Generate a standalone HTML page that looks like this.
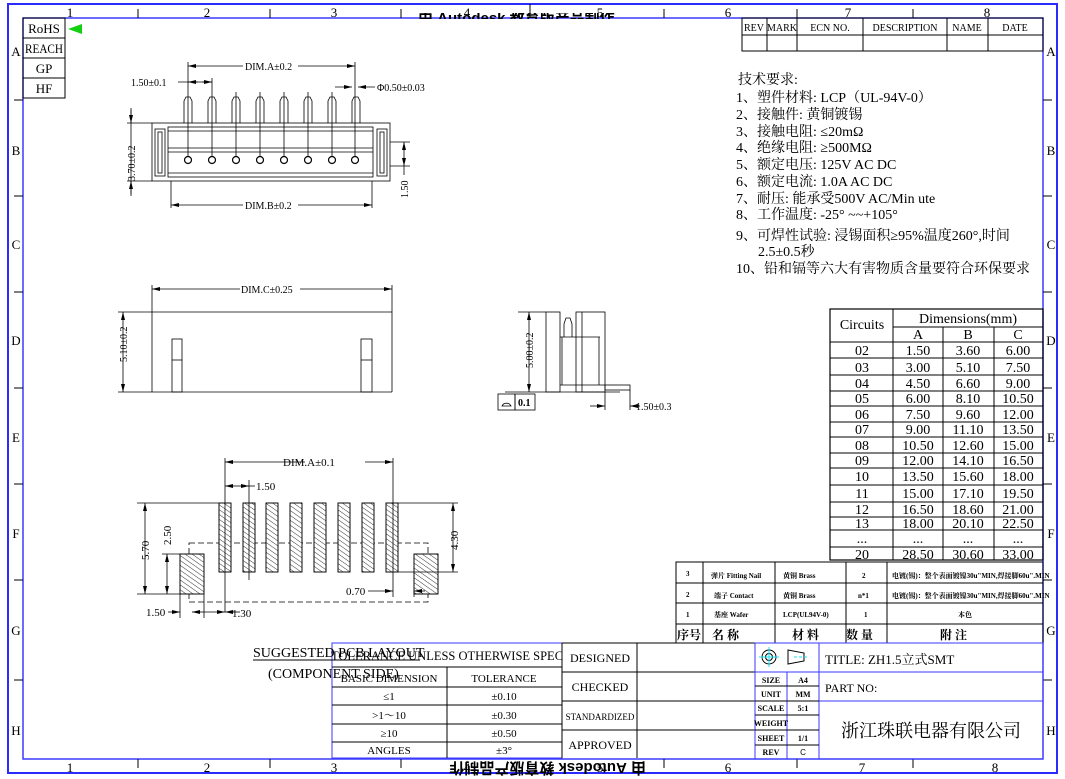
<!DOCTYPE html>
<html><head><meta charset="utf-8"><style>
html,body{margin:0;padding:0;background:#fff;}
svg{display:block;}
text{font-family:"Liberation Serif","Noto Serif CJK SC","Noto Sans CJK SC",serif;fill:#000;}
.c{font-family:"Liberation Sans",sans-serif;fill:#19e0f0;font-size:13px;}
.s{font-family:"Liberation Sans","Noto Sans CJK SC",sans-serif;}
</style></head><body>
<svg width="1065" height="779" viewBox="0 0 1065 779" xmlns="http://www.w3.org/2000/svg">
<defs>
<pattern id="h" width="4" height="4" patternUnits="userSpaceOnUse" patternTransform="rotate(-55)">
<line x1="0" y1="0" x2="0" y2="4" stroke="#000" stroke-width="0.8"/></pattern>
<marker id="a" markerWidth="8" markerHeight="6" refX="8" refY="3" orient="auto-start-reverse" markerUnits="userSpaceOnUse"><path d="M0,1 L8,3 L0,5z" fill="#000"/></marker>
<clipPath id="wm"><rect x="0" y="13" width="1065" height="6"/></clipPath>
</defs>
<!-- frames -->
<rect x="8" y="4" width="1049" height="769" fill="none" stroke="#2b2bff" stroke-width="2"/>
<rect x="23" y="18" width="1020" height="741" fill="none" stroke="#3a3aff" stroke-width="1.5"/>
<g stroke="#000" stroke-width="1">
<line x1="138" y1="9" x2="138" y2="18"/><line x1="270" y1="9" x2="270" y2="18"/><line x1="401" y1="9" x2="401" y2="18"/><line x1="530" y1="4" x2="530" y2="18"/><line x1="664" y1="9" x2="664" y2="18"/><line x1="797" y1="9" x2="797" y2="18"/><line x1="913" y1="9" x2="913" y2="18"/>
<line x1="138" y1="759" x2="138" y2="768"/><line x1="270" y1="759" x2="270" y2="768"/><line x1="401" y1="759" x2="401" y2="768"/><line x1="664" y1="759" x2="664" y2="768"/><line x1="797" y1="759" x2="797" y2="768"/><line x1="913" y1="759" x2="913" y2="768"/>
<line x1="14" y1="100" x2="23" y2="100"/><line x1="14" y1="196" x2="23" y2="196"/><line x1="14" y1="292" x2="23" y2="292"/><line x1="14" y1="388" x2="23" y2="388"/><line x1="14" y1="484" x2="23" y2="484"/><line x1="14" y1="580" x2="23" y2="580"/><line x1="14" y1="680" x2="23" y2="680"/>
<line x1="1043" y1="100" x2="1052" y2="100"/><line x1="1043" y1="196" x2="1052" y2="196"/><line x1="1043" y1="292" x2="1052" y2="292"/><line x1="1043" y1="388" x2="1052" y2="388"/><line x1="1043" y1="484" x2="1052" y2="484"/><line x1="1043" y1="580" x2="1052" y2="580"/><line x1="1043" y1="680" x2="1052" y2="680"/>
</g>
<g class="c" text-anchor="middle">
<text x="70" y="17">1</text><text x="207" y="17">2</text><text x="334" y="17">3</text><text x="467" y="17">4</text><text x="600" y="17">5</text><text x="728" y="17">6</text><text x="848" y="17">7</text><text x="987" y="17">8</text>
<text x="70" y="772">1</text><text x="207" y="772">2</text><text x="334" y="772">3</text><text x="467" y="772">4</text><text x="600" y="772">5</text><text x="728" y="772">6</text><text x="862" y="772">7</text><text x="995" y="772">8</text>
<text x="16" y="56">A</text><text x="16" y="155">B</text><text x="16" y="249">C</text><text x="16" y="345">D</text><text x="16" y="442">E</text><text x="16" y="538">F</text><text x="16" y="635">G</text><text x="16" y="735">H</text>
<text x="1051" y="56">A</text><text x="1051" y="155">B</text><text x="1051" y="249">C</text><text x="1051" y="345">D</text><text x="1051" y="442">E</text><text x="1051" y="538">F</text><text x="1051" y="635">G</text><text x="1051" y="735">H</text>
</g>
<!-- watermark top/bottom -->
<g clip-path="url(#wm)"><text x="418" y="23" font-size="15" font-weight="bold" class="s">由 Autodesk 教育版产品制作</text></g>
<text x="0" y="0" font-size="15" font-weight="bold" class="s" transform="translate(646,763) rotate(180)">由 Autodesk 教育版产品制作</text>
<!-- RoHS -->
<g stroke="#000" fill="none"><rect x="23" y="18" width="42" height="80"/><line x1="23" y1="38" x2="65" y2="38"/><line x1="23" y1="58" x2="65" y2="58"/><line x1="23" y1="78" x2="65" y2="78"/></g>
<g font-size="13" text-anchor="middle"><text x="44" y="33">RoHS</text><text x="44" y="53" textLength="38" lengthAdjust="spacingAndGlyphs">REACH</text><text x="44" y="73">GP</text><text x="44" y="93">HF</text></g>
<path d="M68,29 L82,24 L82,34z" fill="#10d010"/>
<!-- revision table -->
<g stroke="#000" fill="none"><rect x="742" y="18" width="301" height="33"/><line x1="742" y1="35" x2="1043" y2="35"/>
<line x1="767" y1="18" x2="767" y2="51"/><line x1="797" y1="18" x2="797" y2="51"/><line x1="863" y1="18" x2="863" y2="51"/><line x1="947" y1="18" x2="947" y2="51"/><line x1="988" y1="18" x2="988" y2="51"/></g>
<g font-size="10" text-anchor="middle"><text x="754" y="31">REV</text><text x="782" y="31">MARK</text><text x="830" y="31">ECN NO.</text><text x="905" y="31">DESCRIPTION</text><text x="967" y="31">NAME</text><text x="1015" y="31">DATE</text></g>
<!-- tech reqs -->
<g font-size="14">
<text x="738" y="84">技术要求:</text>
<text x="736" y="102">1、塑件材料: LCP（UL-94V-0）</text>
<text x="736" y="119">2、接触件: 黄铜镀锡</text>
<text x="736" y="136">3、接触电阻: ≤20mΩ</text>
<text x="736" y="152">4、绝缘电阻: ≥500MΩ</text>
<text x="736" y="169">5、额定电压: 125V AC  DC</text>
<text x="736" y="186">6、额定电流: 1.0A AC  DC</text>
<text x="736" y="203">7、耐压: 能承受500V  AC/Min ute</text>
<text x="736" y="219">8、工作温度: -25° ~~+105°</text>
<text x="736" y="240">9、可焊性试验: 浸锡面积≥95%温度260°,时间</text>
<text x="758" y="256">2.5±0.5秒</text>
<text x="736" y="273">10、铅和镉等六大有害物质含量要符合环保要求</text>
</g>
<!-- TOP VIEW -->
<g stroke="#000" fill="none" stroke-width="0.8">
<rect x="152" y="123" width="238" height="58"/>
<rect x="168" y="127" width="205" height="50"/>
<line x1="168" y1="131" x2="373" y2="131"/><line x1="168" y1="148" x2="373" y2="148"/><line x1="168" y1="152" x2="373" y2="152"/><line x1="168" y1="173" x2="373" y2="173"/>
<rect x="155" y="129" width="10" height="47"/><rect x="377" y="129" width="10" height="47"/>
<rect x="158" y="132" width="4" height="41"/><rect x="380" y="132" width="4" height="41"/>
<path d="M184,123 V101 L186,97 H190 L192,101 V123"/><path d="M208,123 V101 L210,97 H214 L216,101 V123"/><path d="M232,123 V101 L234,97 H238 L240,101 V123"/><path d="M256,123 V101 L258,97 H262 L264,101 V123"/><path d="M280,123 V101 L282,97 H286 L288,101 V123"/><path d="M304,123 V101 L306,97 H310 L312,101 V123"/><path d="M328,123 V101 L330,97 H334 L336,101 V123"/><path d="M352,123 V101 L354,97 H358 L360,101 V123"/>
<line x1="188" y1="62" x2="188" y2="160"/><line x1="212" y1="78" x2="212" y2="160"/><line x1="236" y1="92" x2="236" y2="160"/><line x1="260" y1="92" x2="260" y2="160"/><line x1="284" y1="92" x2="284" y2="160"/><line x1="308" y1="92" x2="308" y2="160"/><line x1="332" y1="92" x2="332" y2="160"/><line x1="355" y1="62" x2="355" y2="160"/>
<line x1="171" y1="181" x2="171" y2="208"/><line x1="372" y1="181" x2="372" y2="208"/>
<line x1="127" y1="123" x2="152" y2="123"/><line x1="127" y1="181" x2="152" y2="181"/>
<line x1="390" y1="142" x2="410" y2="142"/><line x1="390" y1="166" x2="410" y2="166"/>
</g>
<g fill="#fff" stroke="#000" stroke-width="1.2">
<circle cx="188" cy="160" r="3.5"/><circle cx="212" cy="160" r="3.5"/><circle cx="236" cy="160" r="3.5"/><circle cx="260" cy="160" r="3.5"/><circle cx="284" cy="160" r="3.5"/><circle cx="308" cy="160" r="3.5"/><circle cx="332" cy="160" r="3.5"/><circle cx="355" cy="160" r="3.5"/></g>
<g stroke="#000" stroke-width="0.8" fill="none">
<line x1="188" y1="66" x2="243" y2="66" marker-start="url(#a)"/><line x1="298" y1="66" x2="355" y2="66" marker-end="url(#a)"/>
<line x1="178" y1="82" x2="212" y2="82"/><path d="M188,82 h10" marker-start="url(#a)"/><path d="M202,82 h10" marker-end="url(#a)"/>
<path d="M335,87 h17" marker-end="url(#a)"/><path d="M375,87 h-17" marker-end="url(#a)"/>
<line x1="131" y1="108" x2="131" y2="196"/><path d="M131,110 v13" marker-end="url(#a)"/><path d="M131,194 v-13" marker-end="url(#a)"/>
<line x1="404" y1="142" x2="404" y2="166" marker-start="url(#a)" marker-end="url(#a)"/><line x1="404" y1="166" x2="404" y2="175"/>
<line x1="171" y1="205" x2="243" y2="205" marker-start="url(#a)"/><line x1="298" y1="205" x2="372" y2="205" marker-end="url(#a)"/>
</g>
<g font-size="10"><text x="245" y="70">DIM.A±0.2</text><text x="131" y="86">1.50±0.1</text><text x="377" y="91">Φ0.50±0.03</text><text x="245" y="209">DIM.B±0.2</text>
<text transform="translate(135,181) rotate(-90)">3.70±0.2</text><text transform="translate(408,198) rotate(-90)">1.50</text></g>
<!-- FRONT VIEW -->
<g stroke="#000" fill="none" stroke-width="0.8">
<path d="M152,392 V312 H392 V392"/><line x1="152" y1="392" x2="392" y2="392"/>
<rect x="172" y="339" width="10" height="53"/><line x1="172" y1="360" x2="182" y2="360"/>
<rect x="361" y="339" width="11" height="53"/><line x1="361" y1="360" x2="372" y2="360"/>
<line x1="152" y1="285" x2="152" y2="312"/><line x1="392" y1="285" x2="392" y2="312"/>
<line x1="152" y1="289" x2="240" y2="289" marker-start="url(#a)"/><line x1="300" y1="289" x2="392" y2="289" marker-end="url(#a)"/>
<line x1="118" y1="312" x2="152" y2="312"/><line x1="118" y1="392" x2="152" y2="392"/>
<line x1="123" y1="312" x2="123" y2="392" marker-start="url(#a)" marker-end="url(#a)"/>
</g>
<g font-size="10"><text x="241" y="293">DIM.C±0.25</text><text transform="translate(127,362) rotate(-90)">5.10±0.2</text></g>
<!-- SIDE VIEW -->
<g stroke="#000" fill="none" stroke-width="0.8">
<rect x="546" y="312" width="14" height="80"/>
<rect x="576" y="312" width="29" height="80"/><line x1="582" y1="312" x2="582" y2="392"/>
<path d="M560,337 H600 M562,337 V385 M599,337 V385 M560,385 H605"/>
<path d="M564,337 V324 L566,318 H570 L572,324 V337"/>
<rect x="605" y="385" width="25" height="5"/>
<line x1="518" y1="312" x2="546" y2="312"/><line x1="505" y1="392" x2="620" y2="392"/>
<line x1="529" y1="312" x2="529" y2="392" marker-start="url(#a)" marker-end="url(#a)"/>
<rect x="498" y="394" width="17" height="16"/><rect x="515" y="394" width="20" height="16"/>
<path d="M502,406 A5,5 0 0 1 511,406 z"/>
<line x1="605" y1="392" x2="605" y2="410"/><line x1="630" y1="390" x2="630" y2="410"/>
<path d="M590,406 h15" marker-end="url(#a)"/><path d="M640,406 h-10" marker-end="url(#a)"/>
</g>
<g font-size="10"><text x="518" y="406" font-weight="bold">0.1</text><text x="636" y="410">1.50±0.3</text><text transform="translate(533,368) rotate(-90)">5.00±0.2</text></g>
<!-- PCB LAYOUT -->
<g stroke="#000" stroke-width="0.8">
<rect x="189" y="543" width="239" height="59" fill="none" stroke-dasharray="6,3"/>
<g fill="#fff"><rect x="219" y="503" width="12" height="69"/><rect x="243" y="503" width="12" height="69"/><rect x="266" y="503" width="12" height="69"/><rect x="290" y="503" width="12" height="69"/><rect x="314" y="503" width="12" height="69"/><rect x="338" y="503" width="12" height="69"/><rect x="362" y="503" width="12" height="69"/><rect x="386" y="503" width="12" height="69"/>
<rect x="180" y="554" width="24" height="40"/><rect x="414" y="554" width="24" height="40"/></g>
<g fill="url(#h)"><rect x="219" y="503" width="12" height="69"/><rect x="243" y="503" width="12" height="69"/><rect x="266" y="503" width="12" height="69"/><rect x="290" y="503" width="12" height="69"/><rect x="314" y="503" width="12" height="69"/><rect x="338" y="503" width="12" height="69"/><rect x="362" y="503" width="12" height="69"/><rect x="386" y="503" width="12" height="69"/>
<rect x="180" y="554" width="24" height="40"/><rect x="414" y="554" width="24" height="40"/></g>
<g fill="none">
<line x1="225" y1="458" x2="225" y2="612"/><line x1="393" y1="458" x2="393" y2="597"/><line x1="249" y1="480" x2="249" y2="580"/>
<line x1="180" y1="594" x2="180" y2="618"/><line x1="204" y1="594" x2="204" y2="618"/>
<line x1="225" y1="462" x2="305" y2="462" marker-start="url(#a)"/><line x1="365" y1="462" x2="393" y2="462" marker-end="url(#a)"/>
<path d="M225,486 h12" marker-start="url(#a)"/><path d="M237,486 h12" marker-end="url(#a)"/><line x1="249" y1="486" x2="255" y2="486"/>
<line x1="137" y1="503" x2="219" y2="503"/><line x1="137" y1="594" x2="180" y2="594"/><line x1="162" y1="554" x2="180" y2="554"/>
<line x1="145" y1="503" x2="145" y2="594" marker-start="url(#a)" marker-end="url(#a)"/>
<line x1="167" y1="554" x2="167" y2="594" marker-start="url(#a)" marker-end="url(#a)"/>
<line x1="398" y1="503" x2="458" y2="503"/><line x1="398" y1="572" x2="458" y2="572"/>
<line x1="453" y1="503" x2="453" y2="572" marker-start="url(#a)" marker-end="url(#a)"/>
<path d="M168,612 h12" marker-end="url(#a)"/><path d="M204,612 h-12" marker-end="url(#a)"/><path d="M204,612 h21" marker-end="url(#a)"/><path d="M240,612 h-15" marker-end="url(#a)"/>
<path d="M368,591 h25" marker-end="url(#a)"/><path d="M425,591 h-11" marker-end="url(#a)"/><line x1="414" y1="591" x2="414" y2="597"/>
</g></g>
<g font-size="11"><text x="283" y="466">DIM.A±0.1</text><text x="256" y="490">1.50</text><text x="146" y="616">1.50</text><text x="232" y="617">1.30</text><text x="346" y="595">0.70</text>
<text transform="translate(149,560) rotate(-90)">5.70</text><text transform="translate(171,545) rotate(-90)">2.50</text><text transform="translate(458,550) rotate(-90)">4.30</text></g>
<!-- tolerance table -->
<g stroke="#3a3aff" fill="none"><rect x="332" y="643" width="230" height="115"/></g>
<g stroke="#000" fill="none"><line x1="332" y1="667" x2="562" y2="667"/><line x1="332" y1="687" x2="562" y2="687"/><line x1="332" y1="705" x2="562" y2="705"/><line x1="332" y1="724" x2="562" y2="724"/><line x1="332" y1="742" x2="562" y2="742"/><line x1="447" y1="667" x2="447" y2="758"/>
<line x1="562" y1="643" x2="562" y2="758"/><line x1="637" y1="643" x2="637" y2="758"/>
<line x1="562" y1="672" x2="755" y2="672"/><line x1="562" y1="701" x2="755" y2="701"/><line x1="562" y1="730" x2="755" y2="730"/><line x1="562" y1="643" x2="755" y2="643"/></g>
<text x="253" y="657" font-size="14">SUGGESTED PCB LAYOUT</text><line x1="253" y1="660" x2="420" y2="660" stroke="#000"/>
<text x="268" y="678" font-size="14">(COMPONENT SIDE)</text>
<g font-size="11" text-anchor="middle"><text x="447" y="660" font-size="12.5">TOLERANCE UNLESS OTHERWISE SPEC</text>
<text x="389" y="682">BASIC DIMENSION</text><text x="504" y="682">TOLERANCE</text>
<text x="389" y="700">≤1</text><text x="504" y="700">±0.10</text>
<text x="389" y="719">&gt;1～10</text><text x="504" y="719">±0.30</text>
<text x="389" y="737">≥10</text><text x="504" y="737">±0.50</text>
<text x="389" y="754">ANGLES</text><text x="504" y="754">±3°</text>
<text x="600" y="662" font-size="12">DESIGNED</text><text x="600" y="691" font-size="12">CHECKED</text><text x="600" y="720" font-size="9">STANDARDIZED</text><text x="600" y="749" font-size="12">APPROVED</text></g>
<!-- BOM -->
<g stroke="#000" fill="none"><rect x="676" y="562" width="367" height="81"/>
<line x1="676" y1="583" x2="1043" y2="583"/><line x1="676" y1="603" x2="1043" y2="603"/><line x1="676" y1="624" x2="1043" y2="624"/>
<line x1="703" y1="562" x2="703" y2="643"/><line x1="775" y1="562" x2="775" y2="643"/><line x1="846" y1="562" x2="846" y2="643"/><line x1="887" y1="562" x2="887" y2="643"/></g>
<g font-size="7" font-weight="bold" class="s"><text x="686" y="576">3</text><text x="686" y="597">2</text><text x="686" y="617">1</text>
<text x="711" y="578">弹片 Fitting Nail</text><text x="714" y="598">端子 Contact</text><text x="714" y="617">基座 Wafer</text>
<text x="783" y="578">黄铜 Brass</text><text x="783" y="598">黄铜 Brass</text><text x="783" y="617">LCP(UL94V-0)</text>
<text x="862" y="578">2</text><text x="858" y="598">n*1</text><text x="864" y="617">1</text>
<text x="892" y="578">电镀(锡)：整个表面镀镍30u"MIN,焊接脚60u".MIN</text><text x="892" y="598">电镀(锡)：整个表面镀镍30u"MIN,焊接脚60u".MIN</text><text x="958" y="617">本色</text>
<text x="677" y="639" font-size="12">序号</text><text x="712" y="639" font-size="12">名  称</text><text x="792" y="639" font-size="12">材  料</text><text x="846" y="639" font-size="12">数  量</text><text x="940" y="639" font-size="12">附  注</text></g>
<!-- title block -->
<g stroke="#3a3aff" fill="none"><rect x="755" y="643" width="288" height="116"/><line x1="819" y1="643" x2="819" y2="759"/><line x1="755" y1="672" x2="1043" y2="672"/><line x1="819" y1="701" x2="1043" y2="701"/><line x1="787" y1="672" x2="787" y2="759"/></g>
<g stroke="#000" fill="none"><line x1="755" y1="686" x2="819" y2="686"/><line x1="755" y1="701" x2="819" y2="701"/><line x1="755" y1="715" x2="819" y2="715"/><line x1="755" y1="730" x2="819" y2="730"/><line x1="755" y1="745" x2="819" y2="745"/>
<circle cx="769" cy="657" r="7"/><circle cx="769" cy="657" r="3.5"/><path d="M788,650 L804,653 V661 L788,664 z"/></g>
<g stroke="#19e0f0"><line x1="759" y1="657" x2="779" y2="657"/><line x1="769" y1="647" x2="769" y2="667"/><line x1="794" y1="657" x2="808" y2="657" stroke-dasharray="3,2"/></g>
<g font-size="8" text-anchor="middle" font-weight="bold"><text x="771" y="683">SIZE</text><text x="803" y="683">A4</text><text x="771" y="697">UNIT</text><text x="803" y="697">MM</text><text x="771" y="711">SCALE</text><text x="803" y="711">5:1</text><text x="771" y="726">WEIGHT</text><text x="771" y="741">SHEET</text><text x="803" y="741">1/1</text><text x="771" y="755">REV</text><text x="803" y="755" class="s" font-weight="normal">C</text></g>
<text x="825" y="664" font-size="13">TITLE: ZH1.5立式SMT</text>
<text x="825" y="692" font-size="12">PART NO:</text>
<text x="931" y="737" font-size="18" text-anchor="middle">浙江珠联电器有限公司</text>
<!-- dims table -->
<g stroke="#000" fill="none"><rect x="830" y="309" width="213" height="251" stroke-width="1.2"/>
<line x1="893" y1="309" x2="893" y2="560"/><line x1="943" y1="327" x2="943" y2="560"/><line x1="994" y1="327" x2="994" y2="560"/><line x1="893" y1="327" x2="1043" y2="327"/>
<line x1="830" y1="342" x2="1043" y2="342"/><line x1="830" y1="358" x2="1043" y2="358"/><line x1="830" y1="375" x2="1043" y2="375"/><line x1="830" y1="391" x2="1043" y2="391"/><line x1="830" y1="406" x2="1043" y2="406"/><line x1="830" y1="422" x2="1043" y2="422"/><line x1="830" y1="437" x2="1043" y2="437"/><line x1="830" y1="453" x2="1043" y2="453"/><line x1="830" y1="468" x2="1043" y2="468"/><line x1="830" y1="485" x2="1043" y2="485"/><line x1="830" y1="502" x2="1043" y2="502"/><line x1="830" y1="517" x2="1043" y2="517"/><line x1="830" y1="530" x2="1043" y2="530"/><line x1="830" y1="547" x2="1043" y2="547"/></g>
<g font-size="14" text-anchor="middle">
<text x="862" y="329">Circuits</text><text x="968" y="323">Dimensions(mm)</text><text x="918" y="339">A</text><text x="968" y="339">B</text><text x="1018" y="339">C</text>
<text x="862" y="355">02</text><text x="918" y="355">1.50</text><text x="968" y="355">3.60</text><text x="1018" y="355">6.00</text>
<text x="862" y="372">03</text><text x="918" y="372">3.00</text><text x="968" y="372">5.10</text><text x="1018" y="372">7.50</text>
<text x="862" y="388">04</text><text x="918" y="388">4.50</text><text x="968" y="388">6.60</text><text x="1018" y="388">9.00</text>
<text x="862" y="403">05</text><text x="918" y="403">6.00</text><text x="968" y="403">8.10</text><text x="1018" y="403">10.50</text>
<text x="862" y="419">06</text><text x="918" y="419">7.50</text><text x="968" y="419">9.60</text><text x="1018" y="419">12.00</text>
<text x="862" y="434">07</text><text x="918" y="434">9.00</text><text x="968" y="434">11.10</text><text x="1018" y="434">13.50</text>
<text x="862" y="450">08</text><text x="918" y="450">10.50</text><text x="968" y="450">12.60</text><text x="1018" y="450">15.00</text>
<text x="862" y="465">09</text><text x="918" y="465">12.00</text><text x="968" y="465">14.10</text><text x="1018" y="465">16.50</text>
<text x="862" y="481">10</text><text x="918" y="481">13.50</text><text x="968" y="481">15.60</text><text x="1018" y="481">18.00</text>
<text x="862" y="498">11</text><text x="918" y="498">15.00</text><text x="968" y="498">17.10</text><text x="1018" y="498">19.50</text>
<text x="862" y="514">12</text><text x="918" y="514">16.50</text><text x="968" y="514">18.60</text><text x="1018" y="514">21.00</text>
<text x="862" y="528">13</text><text x="918" y="528">18.00</text><text x="968" y="528">20.10</text><text x="1018" y="528">22.50</text>
<text x="862" y="543">...</text><text x="918" y="543">...</text><text x="968" y="543">...</text><text x="1018" y="543">...</text>
<text x="862" y="559">20</text><text x="918" y="559">28.50</text><text x="968" y="559">30.60</text><text x="1018" y="559">33.00</text>
</g>
</svg>
</body></html>
